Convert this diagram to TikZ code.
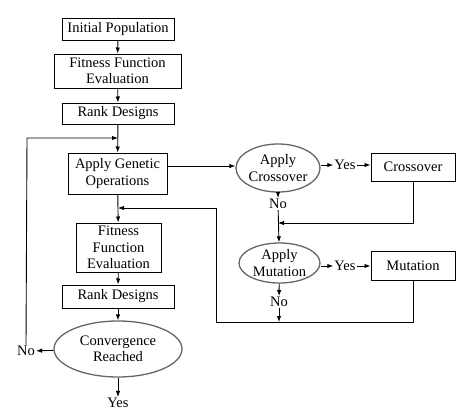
\documentclass[tikz,border=0pt]{standalone}
\usepackage{fontspec}
\setmainfont{Liberation Serif}
\usetikzlibrary{shapes.geometric,arrows.meta}
\begin{document}
\begin{tikzpicture}[x=1pt,y=-1pt,
  box/.style={draw,line width=1pt,rectangle,inner sep=0pt,align=center,font=\fontsize{14.5}{16.5}\selectfont},
  oval/.style={draw=black!60,line width=1.3pt,ellipse,inner sep=0pt,align=center,font=\fontsize{14.5}{16.5}\selectfont},
  lbl/.style={inner sep=1pt,font=\fontsize{14.5}{16.5}\selectfont},
  conn/.style={line width=0.9pt,-{Latex[length=6pt,width=4.5pt]}},
  plain/.style={line width=0.9pt}]
\useasboundingbox (0,0) rectangle (474,415);
\node[box,minimum width=112,minimum height=22] (init) at (118,29) {Initial Population};
\node[box,minimum width=127,minimum height=34] (fit1) at (117.5,71) {Fitness Function\\Evaluation};
\node[box,minimum width=112,minimum height=21] (rank1) at (118,113.5) {Rank Designs};
\node[box,minimum width=99,minimum height=41] (gen) at (117.5,173.5) {Apply Genetic\\Operations};
\node[box,minimum width=85,minimum height=49] (fit2) at (118.5,247.5) {Fitness\\Function\\Evaluation};
\node[box,minimum width=112,minimum height=23] (rank2) at (118,296.5) {Rank Designs};
\node[oval,minimum width=128,minimum height=56] (conv) at (118,349) {Convergence\\Reached};
\node[oval,minimum width=84,minimum height=48] (cross) at (278,168) {Apply\\Crossover};
\node[box,minimum width=84,minimum height=28] (crossbox) at (413,167) {Crossover};
\node[oval,minimum width=81,minimum height=40] (mut) at (279.5,263) {Apply\\Mutation};
\node[box,minimum width=84,minimum height=29] (mutbox) at (413,265.5) {Mutation};
\node[lbl] (yes1) at (345,165) {Yes};
\node[lbl] (yes2) at (345,266) {Yes};
\node[lbl] (no1) at (278,204) {No};
\node[lbl] (no2) at (279,302) {No};
\node[lbl] (no3) at (26,351) {No};
\node[lbl] (yes3) at (118,403) {Yes};
\coordinate (j1) at (118,138);
\coordinate (fb) at (27,138);
\coordinate (j2) at (118,208);
\coordinate (j3) at (278,223);
\coordinate (cb) at (413,223);
\coordinate (bl) at (216,322);
\coordinate (tl) at (216,208);
\coordinate (j4) at (279,322);
\coordinate (mb) at (413,322);
\draw[conn] (init) -- (fit1);
\draw[conn] (fit1) -- (rank1);
\draw[conn] (rank1) -- (gen);
\draw[conn] (no3.north) -- (fb) -- (j1);
\draw[conn] (gen.east |- 0,166) -- (cross.west |- 0,166);
\draw[conn] (cross.east |- 0,165) -- (yes1);
\draw[conn] (yes1) -- (crossbox.west |- yes1);
\draw[conn] (cross) -- (no1);
\draw[conn] (no1) -- (mut);
\draw[conn] (crossbox) -- (cb) -- (j3);
\draw[conn] (mut.east |- yes2) -- (yes2);
\draw[conn] (yes2) -- (mutbox.west |- yes2);
\draw[conn] (mut) -- (no2);
\draw[conn] (no2) -- (j4);
\draw[plain] (mutbox) -- (mb) -- (bl) -- (tl);
\draw[conn] (tl) -- (j2);
\draw[conn] (gen) -- (fit2);
\draw[conn] (fit2) -- (rank2);
\draw[conn] (rank2) -- (conv);
\draw[conn] (conv) -- (no3);
\draw[conn] (conv) -- (yes3);
\end{tikzpicture}
\end{document}
